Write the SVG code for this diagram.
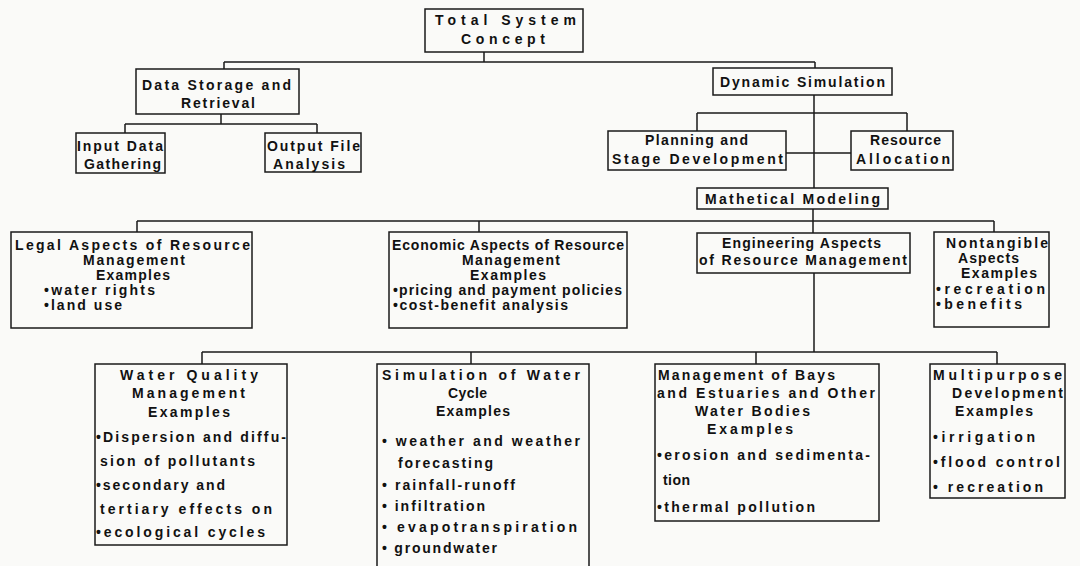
<svg xmlns="http://www.w3.org/2000/svg" width="1080" height="566" viewBox="0 0 1080 566">
<style>
.bg{fill:#fafaf8}
.box{fill:none;stroke:#1a1a1a;stroke-width:1.5}
.conn path{fill:none;stroke:#1a1a1a;stroke-width:1.5}
text{font-family:"Liberation Sans",Arial,sans-serif;font-weight:bold;font-size:14px;fill:#111}
</style>
<rect class="bg" x="0" y="0" width="1080" height="566"/>
<g id="connectors" class="conn">
<path d="M484,52 V62 M224,62 H815 M224,62 V69 M815,62 V68"/>
<path d="M221,114 V124 M125,124 H317 M125,124 V133 M317,124 V133"/>
<path d="M814,95 V188 M697,113 H907 M697,113 V131 M907,113 V131 M786,153 H851"/>
<path d="M813,209 V233 M137,221 H994 M137,221 V232 M479,221 V232 M994,221 V232"/>
<path d="M814,273 V352 M202,352 H997 M202,352 V364 M471,352 V364 M756,352 V364 M997,352 V364"/>
</g>
<g id="total-system">
<rect class="box" x="425" y="9" width="158" height="43"/>
<text x="435" y="25" textLength="141" lengthAdjust="spacing">Total System</text>
<text x="461" y="44" textLength="84" lengthAdjust="spacing">Concept</text>
</g>
<g id="data-storage">
<rect class="box" x="136" y="69" width="163" height="45"/>
<text x="142" y="90" textLength="149" lengthAdjust="spacing">Data Storage and</text>
<text x="181" y="108" textLength="74" lengthAdjust="spacing">Retrieval</text>
</g>
<g id="input-data">
<rect class="box" x="76" y="133" width="89" height="40"/>
<text x="77" y="151" textLength="86" lengthAdjust="spacing">Input Data</text>
<text x="84" y="169" textLength="77" lengthAdjust="spacing">Gathering</text>
</g>
<g id="output-file">
<rect class="box" x="265" y="133" width="96" height="39"/>
<text x="267" y="151" textLength="93" lengthAdjust="spacing">Output File</text>
<text x="273" y="169" textLength="72" lengthAdjust="spacing">Analysis</text>
</g>
<g id="dynamic-simulation">
<rect class="box" x="713" y="68" width="179" height="27"/>
<text x="720" y="87" textLength="165" lengthAdjust="spacing">Dynamic Simulation</text>
</g>
<g id="planning">
<rect class="box" x="608" y="131" width="178" height="39"/>
<text x="645" y="145" textLength="103" lengthAdjust="spacing">Planning and</text>
<text x="612" y="164" textLength="171" lengthAdjust="spacing">Stage Development</text>
</g>
<g id="resource-allocation">
<rect class="box" x="851" y="131" width="102" height="39"/>
<text x="870" y="145" textLength="71" lengthAdjust="spacing">Resource</text>
<text x="856" y="164" textLength="94" lengthAdjust="spacing">Allocation</text>
</g>
<g id="math-modeling">
<rect class="box" x="697" y="188" width="191" height="21"/>
<text x="705" y="204" textLength="175" lengthAdjust="spacing">Mathetical Modeling</text>
</g>
<g id="legal">
<rect class="box" x="11" y="232" width="241" height="96"/>
<text x="15" y="250" textLength="235" lengthAdjust="spacing">Legal Aspects of Resource</text>
<text x="83" y="265" textLength="102" lengthAdjust="spacing">Management</text>
<text x="96" y="280" textLength="74" lengthAdjust="spacing">Examples</text>
<text x="44" y="295" textLength="111" lengthAdjust="spacing">•water rights</text>
<text x="44" y="310" textLength="78" lengthAdjust="spacing">•land use</text>
</g>
<g id="economic">
<rect class="box" x="389" y="232" width="238" height="96"/>
<text x="392" y="250" textLength="232" lengthAdjust="spacing">Economic Aspects of Resource</text>
<text x="462" y="265" textLength="98" lengthAdjust="spacing">Management</text>
<text x="470" y="280" textLength="76" lengthAdjust="spacing">Examples</text>
<text x="393" y="295" textLength="229" lengthAdjust="spacing">•pricing and payment policies</text>
<text x="393" y="310" textLength="175" lengthAdjust="spacing">•cost-benefit analysis</text>
</g>
<g id="engineering">
<rect class="box" x="697" y="233" width="213" height="40"/>
<text x="722" y="248" textLength="159" lengthAdjust="spacing">Engineering Aspects</text>
<text x="699" y="265" textLength="208" lengthAdjust="spacing">of Resource Management</text>
</g>
<g id="nontangible">
<rect class="box" x="934" y="232" width="115" height="95"/>
<text x="946" y="248" textLength="102" lengthAdjust="spacing">Nontangible</text>
<text x="958" y="263" textLength="61" lengthAdjust="spacing">Aspects</text>
<text x="961" y="278" textLength="76" lengthAdjust="spacing">Examples</text>
<text x="936" y="294" textLength="109" lengthAdjust="spacing">•recreation</text>
<text x="936" y="309" textLength="86" lengthAdjust="spacing">•benefits</text>
</g>
<g id="water-quality">
<rect class="box" x="95" y="364" width="192" height="181"/>
<text x="120" y="380" textLength="138" lengthAdjust="spacing">Water Quality</text>
<text x="132" y="398" textLength="113" lengthAdjust="spacing">Management</text>
<text x="148" y="417" textLength="82" lengthAdjust="spacing">Examples</text>
<text x="96" y="442" textLength="190" lengthAdjust="spacing">•Dispersion and diffu-</text>
<text x="100" y="466" textLength="155" lengthAdjust="spacing">sion of pollutants</text>
<text x="96" y="490" textLength="129" lengthAdjust="spacing">•secondary and</text>
<text x="100" y="514" textLength="172" lengthAdjust="spacing">tertiary effects on</text>
<text x="96" y="537" textLength="169" lengthAdjust="spacing">•ecological cycles</text>
</g>
<g id="water-cycle">
<path class="box" d="M377,567 V364 H589 V567"/>
<text x="382" y="380" textLength="198" lengthAdjust="spacing">Simulation of Water</text>
<text x="448" y="398" textLength="39" lengthAdjust="spacing">Cycle</text>
<text x="436" y="416" textLength="74" lengthAdjust="spacing">Examples</text>
<text x="382" y="446" textLength="198" lengthAdjust="spacing">• weather and weather</text>
<text x="398" y="468" textLength="95" lengthAdjust="spacing">forecasting</text>
<text x="382" y="490" textLength="133" lengthAdjust="spacing">• rainfall-runoff</text>
<text x="382" y="511" textLength="103" lengthAdjust="spacing">• infiltration</text>
<text x="382" y="532" textLength="195" lengthAdjust="spacing">• evapotranspiration</text>
<text x="382" y="553" textLength="115" lengthAdjust="spacing">• groundwater</text>
</g>
<g id="bays-estuaries">
<rect class="box" x="655" y="364" width="224" height="157"/>
<text x="658" y="380" textLength="177" lengthAdjust="spacing">Management of Bays</text>
<text x="657" y="398" textLength="218" lengthAdjust="spacing">and Estuaries and Other</text>
<text x="695" y="416" textLength="115" lengthAdjust="spacing">Water Bodies</text>
<text x="707" y="434" textLength="86" lengthAdjust="spacing">Examples</text>
<text x="657" y="460" textLength="213" lengthAdjust="spacing">•erosion and sedimenta-</text>
<text x="663" y="485" textLength="27" lengthAdjust="spacing">tion</text>
<text x="657" y="512" textLength="158" lengthAdjust="spacing">•thermal pollution</text>
</g>
<g id="multipurpose">
<rect class="box" x="930" y="364" width="135" height="134"/>
<text x="933" y="380" textLength="129" lengthAdjust="spacing">Multipurpose</text>
<text x="952" y="398" textLength="111" lengthAdjust="spacing">Development</text>
<text x="955" y="416" textLength="78" lengthAdjust="spacing">Examples</text>
<text x="933" y="442" textLength="102" lengthAdjust="spacing">•irrigation</text>
<text x="933" y="467" textLength="127" lengthAdjust="spacing">•flood control</text>
<text x="933" y="492" textLength="110" lengthAdjust="spacing">• recreation</text>
</g>
</svg>
